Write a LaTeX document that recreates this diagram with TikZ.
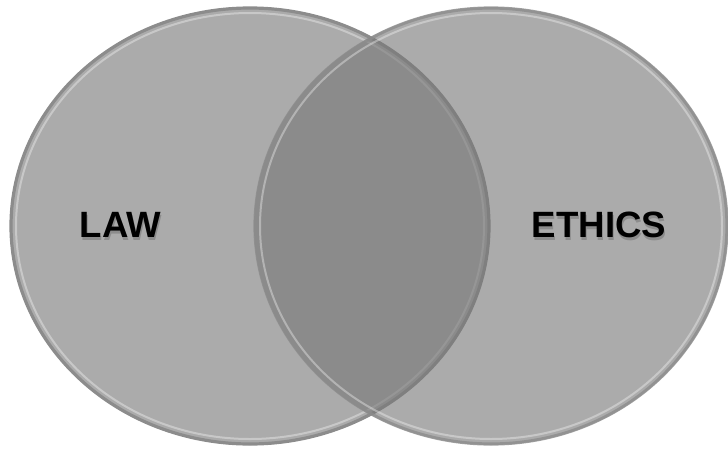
\documentclass[tikz,border=0pt]{standalone}
\usepackage{fontspec}
\setmainfont{Liberation Sans}
\usepackage{tikz}
\usepackage{xcolor}
\definecolor{discgray}{gray}{0.67}
\definecolor{rimgray}{gray}{0.55}
\definecolor{topgray}{gray}{0.47}

\tikzset{
  label/.style={font=\fontsize{18.3}{20}\selectfont\bfseries, text=black},
  shade/.style={font=\fontsize{18.3}{20}\selectfont\bfseries, text=black, opacity=0.18},
}

\begin{document}
\begin{tikzpicture}[x=0.5pt,y=-0.5pt]
      \useasboundingbox (0,0) rectangle (728,450);
      % left disc
      \fill[discgray] (250,226) ellipse (240 and 219);
      \draw[rimgray,line width=1.6pt] (250,226) ellipse (239 and 218);
      \draw[white,opacity=0.35,line width=1pt] (250,226) ellipse (234 and 213);
      % right disc, see-through
      \fill[topgray,opacity=0.62] (491,226) ellipse (237 and 219);
      \draw[rimgray,opacity=0.8,line width=1.6pt] (491,226) ellipse (236 and 218);
      \draw[white,opacity=0.35,line width=1pt] (491,226) ellipse (231 and 213);
      % labels
      \node[shade] at (121.5,227.5) {LAW};
      \node[shade] at (600,227.5) {ETHICS};
      \node[label] (law) at (120.5,224.5) {LAW};
      \node[label] (ethics) at (599,224.5) {ETHICS};
\end{tikzpicture}
\end{document}
